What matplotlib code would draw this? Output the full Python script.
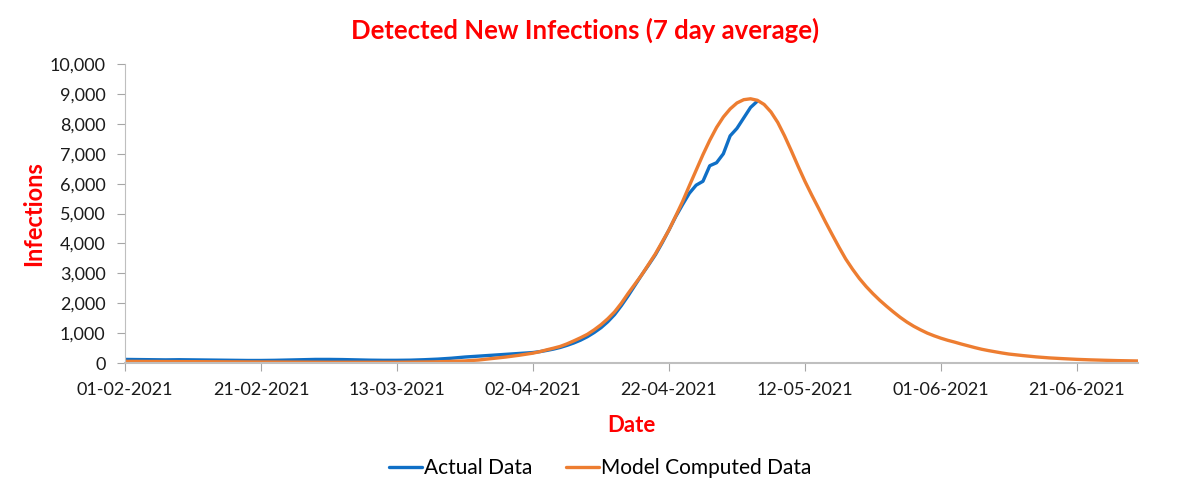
import numpy as np
import matplotlib.pyplot as plt
import matplotlib.dates as mdates
from matplotlib.ticker import FuncFormatter

plt.rcParams['font.family'] = ['Lato', 'DejaVu Sans']

start = np.datetime64('2021-02-01')

# actual data (7 day average), read at day offsets from 01-02-2021
actual_days = [0, 2, 4, 6, 8, 10, 12, 14, 16, 18, 20, 22, 24, 26, 28, 30, 32, 34,
               36, 38, 40, 42, 44, 46, 48, 50, 52, 54, 56, 58,
               60, 61, 62, 63, 64, 65, 66, 67, 68, 69, 70, 71, 72, 73, 74, 75,
               76, 77, 78, 79, 80, 81, 82, 83, 84, 85, 86, 87, 88, 89, 90, 91,
               92, 93]
actual_vals = [120, 115, 110, 105, 110, 105, 100, 95, 90, 85, 85, 90, 100, 110,
               120, 120, 115, 105, 95, 90, 90, 95, 110, 130, 160, 200, 230, 260,
               290, 320,
               350, 380, 420, 465, 520, 590, 670, 765, 880, 1020, 1180, 1380,
               1620, 1920, 2250, 2600, 2950, 3280, 3620, 4020, 4450, 4900, 5300,
               5680, 5950, 6080, 6600, 6700, 7000, 7600, 7850, 8200, 8550, 8760]

# model computed data
model_days = [0, 10, 20, 30, 40, 46, 50, 52, 54, 56, 58,
              60, 61, 62, 63, 64, 65, 66, 67, 68, 69, 70, 71, 72, 73, 74, 75,
              76, 77, 78, 79, 80, 81, 82, 83, 84, 85, 86, 87, 88, 89, 90, 91,
              92, 93, 94, 95, 96, 97, 98, 99, 100, 101, 102, 103, 104, 105,
              106, 107, 108, 109, 110, 111, 112, 113, 114, 115, 116, 117, 118,
              119, 120, 121, 122, 123, 124, 125, 126, 127, 128, 129, 130,
              132, 134, 136, 138, 140, 142, 144, 146, 149]
model_vals = [55, 45, 35, 25, 25, 40, 70, 100, 150, 200, 260,
              330, 380, 440, 495, 555, 640, 740, 845, 960, 1110, 1280, 1480,
              1710, 2000, 2330, 2640, 2950, 3300, 3650, 4050, 4450, 4920, 5400,
              5930, 6450, 6970, 7450, 7880, 8230, 8500, 8700, 8810, 8840, 8790,
              8650, 8400, 8050, 7600, 7100, 6580, 6080, 5620, 5180, 4730, 4300,
              3880, 3480, 3140, 2830, 2560, 2320, 2100, 1900, 1710, 1530, 1370,
              1230, 1110, 1000, 910, 830, 760, 700, 635, 575, 515, 460, 415,
              375, 335, 300,
              250, 205, 170, 145, 122, 105, 92, 80, 68]

tick_days = [0, 20, 40, 60, 80, 100, 120, 140]

actual_dates = start + np.array(actual_days)
model_dates = start + np.array(model_days)
tick_dates = start + np.array(tick_days)

fig = plt.figure(figsize=(12, 4.97), dpi=100)
ax = fig.add_axes([0.1042, 0.2696, 0.8442, 0.6014])

ax.plot(actual_dates, actual_vals, color='#0F6FC6', linewidth=2.4,
        label='Actual Data', solid_capstyle='round', solid_joinstyle='round')
ax.plot(model_dates, model_vals, color='#ED7D31', linewidth=2.4,
        label='Model Computed Data', solid_capstyle='round',
        solid_joinstyle='round')

ax.set_xlim(start, start + np.timedelta64(149, 'D'))
ax.set_ylim(0, 10000)
ax.set_yticks(np.arange(0, 10001, 1000))
ax.yaxis.set_major_formatter(FuncFormatter(lambda v, p: f'{int(v):,}'))
ax.set_xticks(tick_dates)
ax.xaxis.set_major_formatter(mdates.DateFormatter('%d-%m-%Y'))

for s in ['top', 'right']:
    ax.spines[s].set_visible(False)
ax.spines['left'].set_color('#bfbfbf')
ax.spines['bottom'].set_color('#bfbfbf')
ax.spines['bottom'].set_linewidth(1.5)
ax.tick_params(axis='both', colors='#a6a6a6', length=6, labelsize=13,
               labelcolor='#1a1a1a')
ax.tick_params(axis='y', pad=8)
ax.tick_params(axis='x', pad=8)

fig.suptitle('Detected New Infections (7 day average)', color='red',
             fontsize=18.5, fontweight='bold', x=0.4875, y=0.965)
ax.set_xlabel('Date', color='red', fontsize=16, fontweight='bold', labelpad=12)
ax.set_ylabel('Infections', color='red', fontsize=17, fontweight='bold',
              labelpad=3)

fig.legend(loc='center', bbox_to_anchor=(0.5, 0.058), ncol=2, frameon=False,
           fontsize=15, handlelength=1.6, handletextpad=0.1, columnspacing=1.6)

fig.savefig('out.png', dpi=100)
